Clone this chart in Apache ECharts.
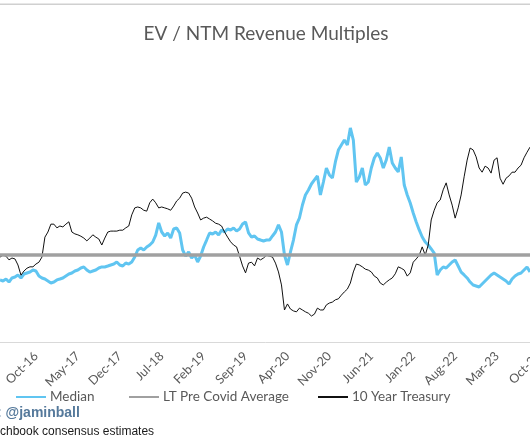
<!DOCTYPE html>
<html>
<head>
<meta charset="utf-8">
<script src="https://cdn.jsdelivr.net/npm/echarts@6/dist/echarts.min.js"></script>
<style>
html,body{margin:0;padding:0;background:#fff;}
#c{width:530px;height:442px;}
</style>
</head>
<body>
<div id="c"></div>
<script>
// Half-month categories starting 1 Apr 2016 (index 12 = Oct-16)
const categories = (function () {
  const out = [];
  for (let i = 0; i < 181; i++) {
    const m = 3 + Math.floor(i / 2);
    const y = 2016 + Math.floor(m / 12);
    const mo = (m % 12) + 1;
    out.push(y + '-' + String(mo).padStart(2, '0') + '-' + (i % 2 ? '16' : '01'));
  }
  return out;
})();

const tickLabels = ['Oct-16','May-17','Dec-17','Jul-18','Feb-19','Sep-19','Apr-20','Nov-20','Jun-21','Jan-22','Aug-22','Mar-23','Oct-23'];

// EV / NTM revenue multiple (x)
const median = [
5.35,5.26,5.43,5.17,5.52,5.60,5.78,5.52,5.86,5.95,6.03,6.21,6.12,5.69,5.52,5.43,5.26,5.09,5.17,5.35,
5.43,5.52,5.69,5.86,5.95,6.12,6.21,6.38,6.47,6.21,6.03,6.12,6.21,6.38,6.47,6.47,6.55,6.64,6.72,6.90,
6.64,6.55,6.81,6.72,6.90,7.33,7.93,8.10,7.93,8.19,8.36,8.62,9.22,10.26,9.48,9.14,9.40,8.97,9.74,9.83,
9.40,7.93,7.41,7.76,7.24,7.50,6.90,7.41,8.19,8.79,9.40,9.31,9.48,9.22,9.66,9.48,9.74,9.66,9.83,9.57,
9.74,10.17,10.35,9.40,9.05,9.14,8.88,8.79,8.71,8.79,8.79,9.14,9.48,10.09,9.48,7.50,6.64,7.76,8.79,10.09,
10.69,11.81,12.67,13.10,13.62,13.97,14.31,12.67,13.79,15.00,14.40,14.14,15.52,16.55,16.98,17.41,16.98,18.45,17.41,13.79,
14.22,15.00,13.53,13.79,15.00,15.86,16.29,15.86,15.00,15.69,16.81,15.43,15.00,14.66,15.95,13.53,12.67,11.98,11.12,10.35,
9.66,9.05,8.62,8.36,8.02,7.67,5.78,6.21,6.47,6.38,6.64,6.90,7.07,6.55,6.03,5.78,5.52,5.17,4.91,4.83,
4.74,5.00,5.26,5.52,5.78,5.95,5.78,5.60,5.43,5.26,5.00,5.43,5.69,5.86,5.95,6.21,6.47,6.03
];

// Long-term pre-Covid average multiple (x)
const ltAverage = 7.5;

// 10 year treasury yield (%)
const treasury = [
1.83,1.87,1.85,1.77,1.81,1.79,1.66,1.44,1.53,1.59,1.62,1.62,1.68,1.72,1.83,2.26,2.37,2.54,2.54,2.46,
2.50,2.48,2.54,2.59,2.37,2.33,2.31,2.28,2.24,2.18,2.24,2.31,2.26,2.22,2.09,2.24,2.37,2.39,2.39,2.39,
2.41,2.41,2.46,2.50,2.74,2.89,2.91,2.89,2.84,2.82,3.00,3.08,3.00,2.89,2.91,2.89,2.87,2.84,2.93,3.04,
3.10,3.21,3.23,3.21,3.10,2.91,2.78,2.63,2.67,2.69,2.65,2.61,2.56,2.54,2.50,2.37,2.26,2.16,2.09,2.05,
1.85,1.64,1.49,1.70,1.72,1.64,1.81,1.77,1.81,1.87,1.85,1.83,1.70,1.51,1.23,0.69,0.82,0.71,0.67,0.65,
0.73,0.69,0.65,0.62,0.56,0.60,0.73,0.69,0.69,0.80,0.84,0.86,0.91,0.93,1.01,1.08,1.14,1.27,1.51,1.68,
1.66,1.62,1.57,1.55,1.51,1.42,1.38,1.27,1.23,1.29,1.34,1.38,1.47,1.62,1.59,1.55,1.42,1.49,1.72,1.79,
1.87,2.05,1.87,2.09,2.63,2.84,3.00,3.06,3.28,3.43,3.17,2.95,2.67,2.89,3.17,3.56,3.92,4.18,4.14,3.99,
3.75,3.66,3.79,3.75,3.64,3.92,3.97,3.53,3.40,3.53,3.58,3.66,3.66,3.75,3.81,3.97,4.09,4.20
];

const FONT = 'Lato, "Open Sans", sans-serif';
const BLUE = '#60c5f1', GREY = '#a0a0a0', BLACK = '#111111';
const chart = echarts.init(document.getElementById('c'), null, {renderer: 'canvas'});

function legendAt(name, left) {
  return {
    left: left, top: 390, itemWidth: 30, itemHeight: 14, itemGap: 0, padding: 0,
    selectedMode: false,
    itemStyle: {opacity: 0},
    textStyle: {fontFamily: FONT, fontSize: 13.5, color: '#595959', padding: [0, 0, 0, -1]},
    data: [name]
  };
}

chart.setOption({
  animation: false,
  backgroundColor: '#ffffff',
  title: {
    text: 'EV / NTM Revenue Multiples',
    left: 261, top: 19, textAlign: 'center',
    textStyle: {fontFamily: FONT, fontSize: 19, fontWeight: 'normal', color: '#595959'}
  },
  grid: {left: 0, right: -9, top: 110, bottom: 100, containLabel: false, outerBoundsMode: 'none'},
  legend: [
    legendAt('Median', 15),
    legendAt('LT Pre Covid Average', 128),
    legendAt('10 Year Treasury', 317)
  ],
  xAxis: {
    type: 'category', data: categories, boundaryGap: false,
    axisLine: {lineStyle: {color: '#d9d9d9', width: 1}},
    axisTick: {show: false},
    splitLine: {show: false},
    axisLabel: {
      rotate: 45, margin: 12, color: '#595959', fontFamily: FONT, fontSize: 12.5,
      hideOverlap: false,
      interval: function (idx) { return idx >= 12 && (idx - 12) % 14 === 0; },
      formatter: function (val, idx) { return tickLabels[(idx - 12) / 14] || ''; }
    }
  },
  yAxis: [
    {type: 'value', min: 0, max: 20, show: false, splitLine: {show: false}},
    {type: 'value', min: 0, max: 5, show: false, splitLine: {show: false}}
  ],
  series: [
    {
      name: 'Median', type: 'line', yAxisIndex: 0, data: median,
      symbol: 'none', lineStyle: {color: BLUE, width: 3}, itemStyle: {color: BLUE}
    },
    {
      name: 'LT Pre Covid Average', type: 'line', yAxisIndex: 0, data: [],
      symbol: 'none', lineStyle: {color: GREY, width: 3.5}, itemStyle: {color: GREY},
      markLine: {
        silent: true, symbol: 'none', label: {show: false},
        lineStyle: {color: GREY, width: 3.5, type: 'solid'},
        data: [{yAxis: ltAverage}]
      }
    },
    {
      name: '10 Year Treasury', type: 'line', yAxisIndex: 1, data: treasury,
      symbol: 'none', lineStyle: {color: BLACK, width: 1}, itemStyle: {color: BLACK}
    }
  ],
  graphic: [
    {type: 'rect', shape: {x: 0, y: 3.5, width: 530, height: 1.5}, style: {fill: '#d0d0d0'}},
    {type: 'text', left: -3, top: 406, style: {text: ': @jaminball', font: 'bold 14px "Liberation Sans", Arial, sans-serif', fill: '#55799b'}},
    {type: 'text', left: 0, top: 426, style: {text: 'chbook consensus estimates', font: '12px "Liberation Sans", Arial, sans-serif', fill: '#1a1a1a'}}
  ]
});
</script>
</body>
</html>
